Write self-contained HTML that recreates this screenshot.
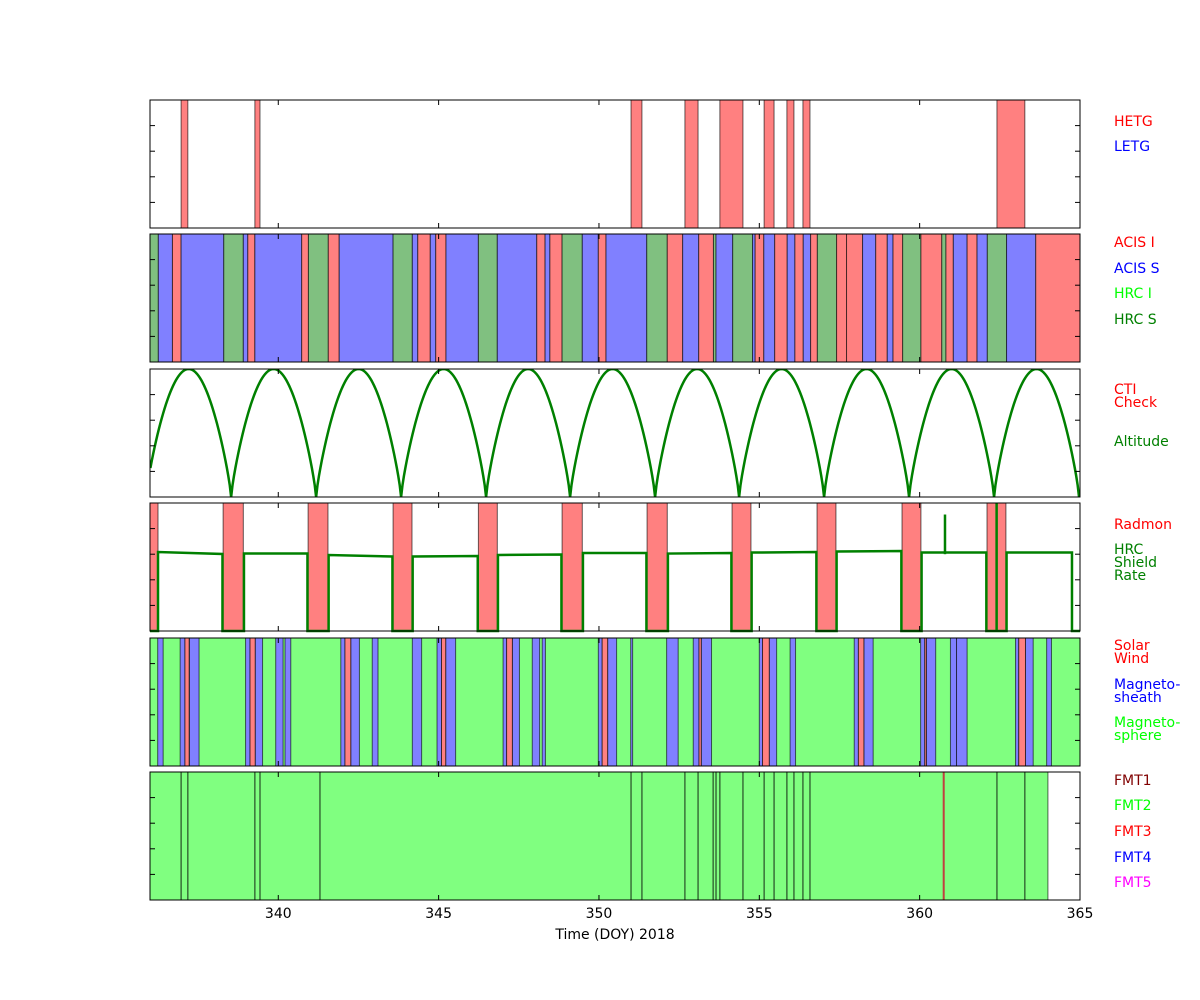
<!DOCTYPE html>
<html><head><meta charset="utf-8">
<style>
html,body{margin:0;padding:0;background:#fff;}
svg{display:block;font-family:"DejaVu Sans","Liberation Sans",sans-serif;}
</style></head>
<body>
<svg id="chart" width="1200" height="1000" xmlns="http://www.w3.org/2000/svg"></svg>
<script>
// ---- data ----
const xTicks = [340, 345, 350, 355, 360, 365];
const hetgStart = [336.97, 339.27, 351.00, 352.68, 353.77, 355.15, 355.86, 356.36, 362.41];
const hetgEnd   = [337.18, 339.43, 351.34, 353.09, 354.49, 355.46, 356.08, 356.58, 363.28];

const instStart = [336.00,336.26,336.70,336.97,338.30,338.91,339.05,339.27,340.73,340.94,341.56,341.90,343.58,344.18,344.35,344.74,344.91,345.23,346.24,346.83,348.06,348.32,348.47,348.85,349.48,349.98,350.22,351.49,352.13,352.61,353.11,353.57,353.65,354.17,354.79,354.87,355.14,355.48,355.87,356.11,356.37,356.60,356.81,357.41,357.72,358.22,358.63,358.99,359.17,359.47,360.04,360.69,360.82,361.05,361.48,361.79,362.11,362.71,363.62];
const instEnd   = [336.26,336.70,336.97,338.30,338.91,339.05,339.27,340.73,340.94,341.56,341.90,343.58,344.18,344.35,344.74,344.91,345.23,346.24,346.83,348.06,348.32,348.47,348.85,349.48,349.98,350.22,351.49,352.13,352.61,353.11,353.57,353.65,354.17,354.79,354.87,355.14,355.48,355.87,356.11,356.37,356.60,356.81,357.41,357.72,358.22,358.63,358.99,359.17,359.47,360.04,360.69,360.82,361.05,361.48,361.79,362.11,362.71,363.62,365.00];
const instKind  = ["H","S","A","S","H","S","A","S","A","H","A","S","H","S","A","S","A","S","H","S","A","S","A","H","S","A","S","H","A","S","A","H","S","H","S","A","S","A","S","A","S","A","H","A","A","S","A","S","A","H","A","H","A","S","A","S","H","S","A"];

const perigees = [335.88, 338.53, 341.18, 343.83, 346.48, 349.10, 351.75, 354.37, 357.02, 359.67, 362.32, 364.97];

const radStart = [336.00, 338.28, 340.93, 343.58, 346.24, 348.85, 351.50, 354.15, 356.80, 359.45, 362.10];
const radEnd   = [336.25, 338.91, 341.55, 344.17, 346.83, 349.48, 352.13, 354.74, 357.39, 360.04, 362.69];
const orbStart = [336.25, 338.93, 341.57, 344.19, 346.85, 349.50, 352.15, 354.76, 357.41, 360.06, 362.71];
const orbEnd   = [338.26, 340.91, 343.56, 346.22, 348.83, 351.48, 354.13, 356.78, 359.43, 362.08, 364.75];
const rateA    = [0.617, 0.605, 0.594, 0.582, 0.594, 0.609, 0.605, 0.613, 0.621, 0.613, 0.613];
const rateB    = [0.602, 0.605, 0.582, 0.586, 0.598, 0.609, 0.609, 0.617, 0.625, 0.613, 0.613];
const spikeT   = [360.79, 362.40];
const spikeV   = [0.91, 1.0];

const swStart = [336.24,336.94,337.23,338.98,339.28,339.92,340.21,341.95,342.26,342.93,344.18,344.95,345.22,347.01,347.30,347.92,348.23,349.98,350.27,350.99,352.11,352.94,353.19,355.00,355.31,355.96,357.96,358.26,360.03,360.21,360.96,361.15,362.99,363.30,363.96,
                 337.09,339.12,342.08,345.09,347.12,350.10,353.12,355.10,358.09,360.16,363.09];
const swEnd   = [336.41,337.09,337.53,339.12,339.51,340.15,340.39,342.08,342.53,343.11,344.47,345.09,345.53,347.12,347.52,348.15,348.33,350.10,350.55,351.05,352.47,353.12,353.51,355.10,355.54,356.13,358.09,358.55,360.16,360.50,361.15,361.48,363.09,363.54,364.11,
                 337.22,339.28,342.26,345.22,347.30,350.27,353.19,355.31,358.26,360.21,363.30];
const swKind  = ["S","S","S","S","S","S","S","S","S","S","S","S","S","S","S","S","S","S","S","S","S","S","S","S","S","S","S","S","S","S","S","S","S","S","S",
                 "W","W","W","W","W","W","W","W","W","W","W"];

const fmtEnd = 364.00;
const fmtLines = [336.97,337.18,339.27,339.43,341.30,351.00,351.34,352.68,353.09,353.56,353.65,353.77,354.49,355.15,355.46,355.86,356.08,356.36,356.58,362.41,363.28];
const fmt3Mark = 360.75;

// ---- layout ----
const NS = "http://www.w3.org/2000/svg";
const svg = document.getElementById("chart");
const X0 = 150, X1 = 1080, D0 = 336, D1 = 365;
const panels = [[100,228],[234,362],[369,497],[503,631],[638,766],[772,900]];
function x(d){ return X0 + (d - D0) * (X1 - X0) / (D1 - D0); }
function yP(p, v){ const [t,b] = panels[p]; return b - v * (b - t); }
function el(tag, attrs, parent){
  const e = document.createElementNS(NS, tag);
  for (const k in attrs) e.setAttribute(k, attrs[k]);
  (parent || svg).appendChild(e);
  return e;
}
const RED="#ff8080", BLUE="#8080ff", DGREEN="#80c080", LIME="#80ff80";
function band(p, a, b, fill, name, parent){
  const [t,bt] = panels[p];
  const r = el("rect", {x:x(a), y:t, width:Math.max(0.5, x(b)-x(a)), height:bt-t, fill:fill, stroke:"#000", "stroke-opacity":0.6, "stroke-width":1}, parent);
  
  
}
const groups = [];
for (let p = 0; p < 6; p++){
  const g = el("g", {});
  
  
  groups.push(g);
}
// panel 1
for (let i = 0; i < hetgStart.length; i++) band(0, hetgStart[i], hetgEnd[i], RED, 'hetg-interval', groups[0]);
// panel 2
const instColor = {A:RED, S:BLUE, H:DGREEN};
for (let i = 0; i < instStart.length; i++) band(1, instStart[i], instEnd[i], instColor[instKind[i]], 'instrument-interval', groups[1]);
// panel 3 altitude
{
  let d = "";
  for (let k = 0; k < perigees.length - 1; k++){
    const a = perigees[k], b = perigees[k+1];
    for (let s = 0; s <= 60; s++){
      const t = a + (b - a) * s / 60;
      if (t < D0 || t > D1) continue;
      const v = Math.pow(Math.sin(Math.PI * (t - a) / (b - a)), 0.8);
      d += (d ? "L" : "M") + x(t).toFixed(2) + " " + yP(2, v).toFixed(2);
    }
  }
  const cp = el("clipPath", {id:"c3"});
  el("rect", {x:X0, y:panels[2][0], width:X1-X0, height:128}, cp);
  const path = el("path", {d:d, fill:"none", stroke:"#008000", "stroke-width":2.5, "clip-path":"url(#c3)"}, groups[2]);
  
  
}
// panel 4
for (let i = 0; i < radStart.length; i++) band(3, radStart[i], radEnd[i], RED, 'radmon-interval', groups[3]);
{
  let d = "M" + x(D0) + " " + yP(3,0);
  for (let i = 0; i < orbStart.length; i++){
    d += "L" + x(orbStart[i]) + " " + yP(3,0) + "L" + x(orbStart[i]) + " " + yP(3,rateA[i]);
    d += "L" + x(orbEnd[i]) + " " + yP(3,rateB[i]) + "L" + x(orbEnd[i]) + " " + yP(3,0);
  }
  d += "L" + x(D1) + " " + yP(3,0);
  const path = el("path", {d:d, fill:"none", stroke:"#008000", "stroke-width":2.5}, groups[3]);
  
  
  for (let i = 0; i < spikeT.length; i++){
    const ln = el("line", {x1:x(spikeT[i]), x2:x(spikeT[i]), y1:yP(3,0.6), y2:yP(3,spikeV[i]), stroke:"#008000", "stroke-width":2.5}, groups[3]);
    if (i === 1) ln.setAttribute("y1", yP(3,0));
    
    
  }
}
// panel 5
band(4, D0, D1, LIME, 'magnetosphere-background', groups[4]);
const swColor = {S:BLUE, W:RED};
for (let i = 0; i < swStart.length; i++) band(4, swStart[i], swEnd[i], swColor[swKind[i]], 'region-interval', groups[4]);
// panel 6
band(5, D0, fmtEnd, LIME, 'fmt2-interval', groups[5]);
for (let i = 0; i < fmtLines.length; i++){
  const ln = el("line", {x1:x(fmtLines[i]), x2:x(fmtLines[i]), y1:panels[5][0], y2:panels[5][1], stroke:"#000", "stroke-opacity":0.7, "stroke-width":1.2}, groups[5]);
  
  
}
{
  const ln = el("line", {x1:x(fmt3Mark), x2:x(fmt3Mark), y1:panels[5][0], y2:panels[5][1], stroke:"#c04040", "stroke-width":2}, groups[5]);
  
  
}
// frames and ticks
for (let p = 0; p < 6; p++){
  const [t,b] = panels[p];
  const fr = el("rect", {x:X0, y:t, width:X1-X0, height:b-t, fill:"none", stroke:"#000", "stroke-width":1});
  
  
  for (let k = 1; k < 5; k++){
    const yy = t + (b - t) * k / 5;
    el("line", {x1:X0, x2:X0+5, y1:yy, y2:yy, stroke:"#000"});
    el("line", {x1:X1-5, x2:X1, y1:yy, y2:yy, stroke:"#000"});
  }
  for (const tk of xTicks){
    if (tk >= D1) continue;
    el("line", {x1:x(tk), x2:x(tk), y1:t, y2:t+5, stroke:"#000"});
    el("line", {x1:x(tk), x2:x(tk), y1:b-5, y2:b, stroke:"#000"});
  }
}
for (const tk of xTicks){
  const tx = el("text", {x:x(tk), y:918, "font-size":14, "text-anchor":"middle", fill:"#000"});
  tx.textContent = String(tk);
  
  
}
const xt = el("text", {x:615, y:939, "font-size":14, "text-anchor":"middle", fill:"#000"});
xt.textContent = "Time (DOY) 2018";


// legend labels
const labels = [
 ["HETG",126,"#ff0000"],["LETG",151,"#0000ff"],
 ["ACIS I",247,"#ff0000"],["ACIS S",273,"#0000ff"],["HRC I",298,"#00ff00"],["HRC S",324,"#008000"],
 ["CTI",394,"#ff0000"],["Check",407,"#ff0000"],["Altitude",446,"#008000"],
 ["Radmon",529,"#ff0000"],["HRC",554,"#008000"],["Shield",567,"#008000"],["Rate",580,"#008000"],
 ["Solar",650,"#ff0000"],["Wind",663,"#ff0000"],["Magneto-",689,"#0000ff"],["sheath",702,"#0000ff"],["Magneto-",727,"#00ff00"],["sphere",740,"#00ff00"],
 ["FMT1",785,"#800000"],["FMT2",810,"#00ff00"],["FMT3",836,"#ff0000"],["FMT4",862,"#0000ff"],["FMT5",887,"#ff00ff"]
];
for (const [txt, yy, c] of labels){
  const t = el("text", {x:1114, y:yy, "font-size":14, fill:c});
  t.textContent = txt;
  
  
}
</script>
</body></html>
